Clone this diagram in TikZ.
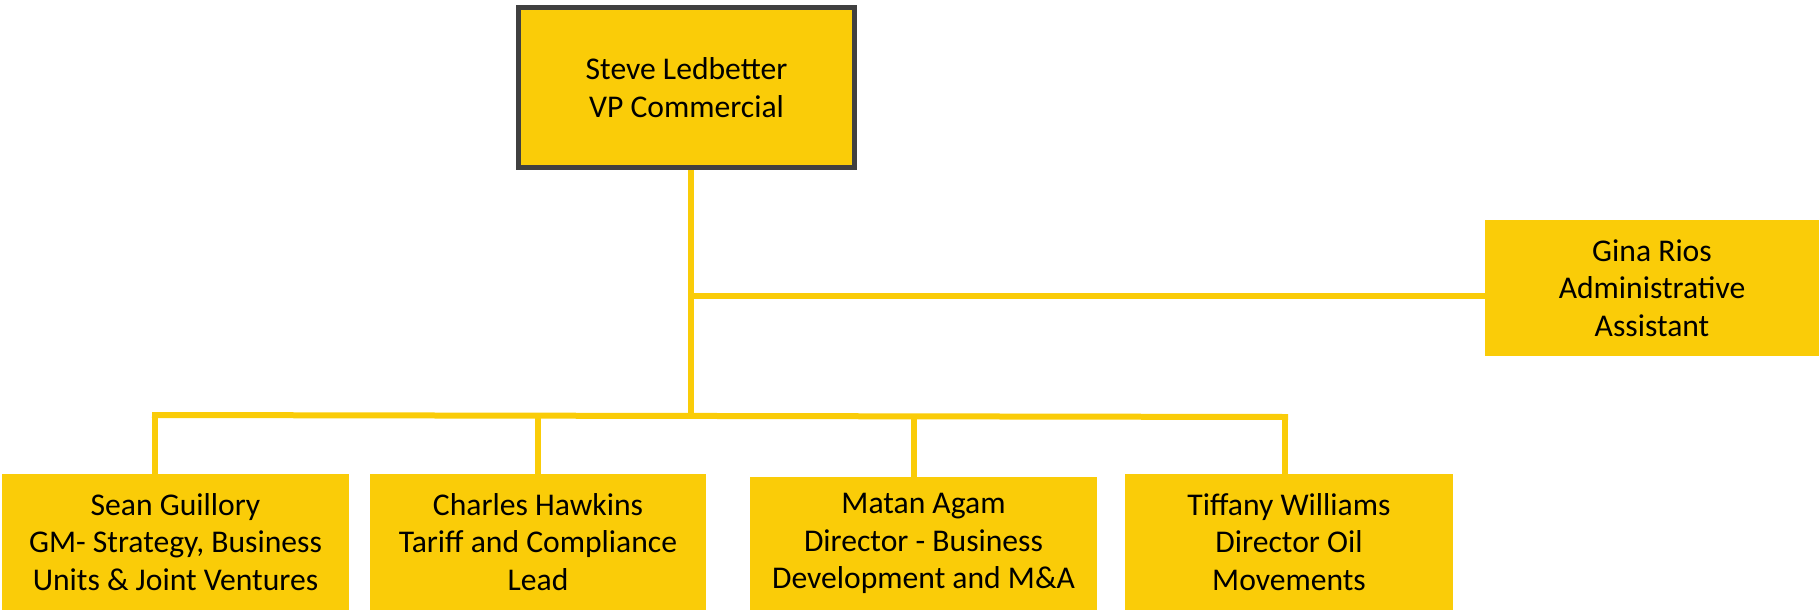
\documentclass[tikz,border=0pt]{standalone}
\usepackage{fontspec}
\setmainfont{Carlito}
\usepackage{tikz}
\usetikzlibrary{calc,positioning}

\definecolor{orgyellow}{RGB}{250,204,8}
\definecolor{orgborder}{RGB}{64,64,64}

\begin{document}
\begin{tikzpicture}[
    box/.style={fill=orgyellow,text centered,align=center,inner sep=0pt,minimum height=2.72cm,font=\fontsize{18}{21.4}\selectfont},
    link/.style={draw=orgyellow,line width=0.12cm}
  ]
  \useasboundingbox (0,0) rectangle (36.38,12.2);

  % Head
  \path (13.73,10.45) node[box,draw=orgborder,line width=0.1cm,minimum width=6.72cm,minimum height=3.2cm] (vp) {Steve Ledbetter\\VP Commercial};

  % Assistant
  \path (33.04,6.44) node[box,minimum width=6.68cm] (gina) {Gina Rios\\Administrative\\Assistant};

  % Reports
  \path (3.51,1.36)  node[box,minimum width=6.94cm] (sean) {Sean Guillory\\GM- Strategy, Business\\Units \& Joint Ventures};
  \path (10.76,1.36) node[box,minimum width=6.72cm] (charles) {Charles Hawkins\\Tariff and Compliance\\Lead};
  \path (18.47,1.33) node[box,minimum width=6.94cm,minimum height=2.66cm] (matan) {Matan Agam\\Director - Business\\Development and M\&A};
  \path (25.78,1.36) node[box,minimum width=6.56cm] (tiffany) {Tiffany Williams\\Director Oil\\Movements};

  % Connectors
  \coordinate (tee) at (13.82,6.28);
  \coordinate (bus) at (13.82,3.88);
  \coordinate (bus-left) at (3.1,3.9);
  \coordinate (bus-right) at (25.7,3.86);
  \coordinate (drop-matan) at (18.28,3.87);

  \draw[link] (vp.south -| bus) -- (bus);
  \draw[link] (tee) -- (tee -| gina.west);
  \draw[link,line cap=rect] (bus-left) -- (bus-right);
  \draw[link] (bus-left) -- (bus-left |- sean.north);
  \draw[link] (charles.north |- bus) -- (charles.north);
  \draw[link] (drop-matan) -- (drop-matan |- matan.north);
  \draw[link] (bus-right) -- (bus-right |- tiffany.north);

\end{tikzpicture}
\end{document}
